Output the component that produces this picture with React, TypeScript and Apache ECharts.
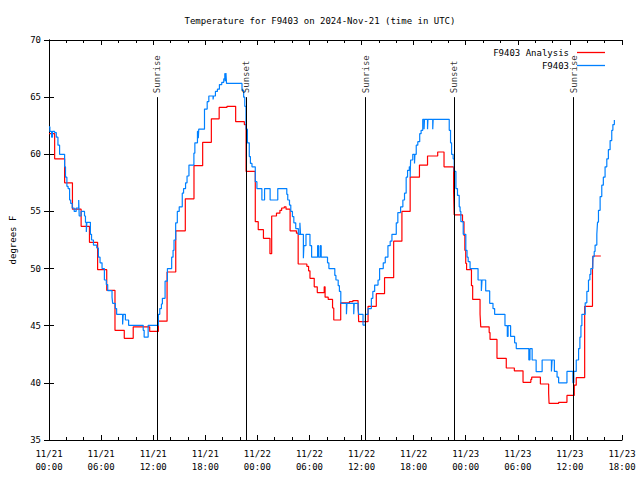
import React, { useEffect, useRef } from "react";
import * as echarts from "echarts";

// hours since 2024-11-21 00:00 UTC, temperature in deg F
const analysisData: [number, number][] = [
  [0, 61.8], [0.65, 59.6], [1.8, 57.5], [2.7, 55.2], [3.7, 53.7], [4.66, 52.3], [5.6, 49.9],
  [6.65, 48.1], [7.6, 44.6], [8.67, 43.9], [9.7, 44.9], [11.6, 44.5], [12.6, 45.4], [13.6, 49.7],
  [14.6, 53.3], [15.7, 56.1], [16.7, 59.0], [17.7, 61.05], [18.7, 63.1], [19.6, 64.1], [20.5, 64.2],
  [21.5, 62.85], [22.5, 62.6], [22.7, 58.5], [23.76, 54.1], [24.1, 53.4], [24.7, 52.65], [25.45, 51.3],
  [25.65, 54.6], [26.2, 54.85], [26.6, 55.1], [26.8, 55.3], [27.1, 55.4], [27.3, 55.2], [27.77, 53.3],
  [28.5, 53.1], [28.7, 50.4], [29.7, 50.2], [29.9, 49.8], [30.06, 49.15], [30.55, 48.4], [30.9, 47.9],
  [31.7, 48.4], [31.8, 47.5], [32.16, 47.3], [32.66, 46.55], [32.8, 45.5], [33.6, 47.0], [34.6, 47.1],
  [35.0, 47.2], [35.6, 47.0], [35.67, 45.35], [36.75, 46.7], [37.7, 47.8], [38.65, 49.2], [39.7, 52.4],
  [40.65, 55.0], [41.6, 58.0], [42.67, 59.06], [43.6, 59.85], [44.77, 60.2], [45.5, 58.9], [46.6, 56.9],
  [46.67, 54.7], [47.63, 54.1], [47.8, 52.9], [47.9, 51.6], [48.0, 50.46], [48.1, 49.9], [48.66, 48.5],
  [48.8, 47.3], [49.65, 46.0], [49.73, 44.9], [50.7, 44.4], [50.8, 43.8], [51.6, 42.15], [52.67, 41.3],
  [53.6, 41.05], [54.6, 40.05], [55.5, 40.3], [55.6, 40.5], [56.6, 39.9], [57.55, 39.1], [57.6, 38.2],
  [58.7, 38.3], [59.66, 38.9], [60.5, 39.8], [60.73, 40.45], [61.7, 46.7], [62.6, 50.0], [62.65, 51.1],
  [63.56, 51.1],
];

const stationData: [number, number][] = [
  [0, 62.4], [0.1, 62.0], [0.3, 61.5], [0.4, 62.0], [0.65, 61.9], [0.84, 61.5], [1.03, 60.8], [1.22, 60.0],
  [1.8, 58.9], [1.9, 58.0], [2.06, 57.2], [2.2, 57.0], [2.37, 56.0], [2.5, 55.7], [2.67, 55.3], [2.9, 55.0],
  [3.13, 55.3], [3.42, 56.0], [3.48, 54.6], [3.7, 55.0], [4.09, 54.6], [4.2, 54.05], [4.3, 53.2], [4.36, 54.05],
  [4.77, 53.0], [4.9, 52.5], [5.12, 52.06], [5.5, 51.8], [5.69, 51.0], [5.88, 50.5], [6.11, 50.0], [6.38, 49.0],
  [6.6, 48.6], [6.76, 48.07], [7.26, 47.5], [7.33, 46.96], [7.64, 46.5], [7.79, 46.0], [8.48, 45.1], [8.55, 46.0],
  [8.8, 45.5], [9.17, 45.03], [10.85, 44.6], [10.96, 44.0], [11.42, 45.03], [12.6, 46.0], [12.76, 46.5],
  [12.95, 46.9], [13.06, 47.4], [13.37, 48.9], [13.64, 50.0], [14.13, 51.0], [14.29, 51.6], [14.4, 52.5],
  [14.59, 54.0], [14.78, 55.0], [15.0, 55.4], [15.35, 56.6], [15.5, 57.0], [15.73, 57.5], [15.9, 58.1],
  [16.12, 59.06], [16.69, 60.1], [16.8, 61.0], [17.1, 62.0], [17.2, 61.4], [17.25, 62.2], [17.91, 63.96],
  [18.22, 64.6], [18.41, 65.1], [18.9, 64.8], [18.95, 65.1], [19.17, 65.5], [19.4, 65.7], [19.63, 66.1],
  [19.9, 66.3], [20.13, 66.6], [20.25, 67.1], [20.3, 66.4], [20.38, 67.1], [20.45, 66.2], [22.23, 65.6],
  [22.42, 65.0], [22.55, 64.2], [22.69, 62.2], [22.85, 61.0], [23.07, 59.8], [23.2, 59.2], [23.38, 58.9],
  [23.76, 57.6], [23.95, 57.0], [24.52, 56.0], [24.83, 57.0], [25.47, 56.0], [26.35, 57.0], [27.39, 56.5],
  [27.5, 56.0], [27.7, 55.56], [27.85, 55.0], [28.04, 54.55], [28.2, 54.0], [28.42, 53.5], [28.72, 53.0],
  [28.9, 54.0], [28.97, 53.0], [29.3, 50.9], [29.36, 52.0], [29.6, 53.0], [30.06, 52.0], [30.25, 51.0],
  [30.94, 52.0], [31.05, 51.0], [31.25, 52.0], [31.35, 51.0], [32.08, 50.5], [32.24, 50.0], [32.92, 49.4],
  [33.05, 49.0], [33.31, 48.5], [33.45, 48.0], [33.61, 46.96], [34.26, 46.0], [34.32, 46.96], [35.1, 46.0],
  [35.16, 46.96], [35.6, 46.5], [35.67, 46.0], [36.17, 45.06], [36.44, 46.0], [36.75, 46.5], [37.13, 47.4],
  [37.3, 48.0], [37.51, 48.56], [37.9, 49.0], [38.08, 50.0], [38.5, 50.5], [38.73, 51.0], [39.04, 52.0],
  [39.3, 52.4], [39.5, 53.0], [40.0, 54.0], [40.18, 54.9], [40.5, 55.4], [40.76, 56.0], [40.95, 56.6],
  [41.14, 58.0], [41.3, 58.6], [41.5, 58.9], [41.6, 58.0], [41.65, 59.5], [41.9, 60.0], [42.1, 59.2],
  [42.15, 60.0], [42.3, 60.8], [42.48, 61.1], [42.7, 61.8], [42.86, 62.1], [43.05, 63.06], [43.2, 62.2],
  [43.25, 63.06], [43.6, 62.2], [43.65, 63.06], [44.2, 62.2], [44.25, 63.06], [46.1, 62.1], [46.25, 61.0],
  [46.37, 60.0], [46.55, 59.6], [46.67, 58.5], [46.87, 57.0], [47.05, 56.4], [47.25, 55.4], [47.35, 55.0],
  [47.44, 54.1], [47.71, 53.0], [48.01, 51.6], [48.15, 51.0], [48.28, 50.6], [48.5, 50.0], [49.42, 49.0],
  [49.8, 48.04], [49.88, 49.0], [50.3, 48.04], [50.76, 46.96], [51.14, 46.5], [51.33, 46.0], [52.52, 45.0],
  [52.79, 44.06], [52.88, 45.0], [53.17, 44.06], [53.63, 43.5], [53.82, 43.0], [55.27, 42.0], [55.4, 43.0],
  [55.65, 42.0], [56.11, 40.98], [56.8, 42.0], [57.87, 41.0], [57.95, 42.0], [58.21, 41.0], [58.52, 40.5],
  [58.7, 40.0], [59.66, 41.0], [60.35, 40.0], [60.45, 41.0], [60.73, 42.0], [61.0, 43.0], [61.15, 44.0],
  [61.27, 45.0], [61.38, 46.0], [61.76, 47.0], [61.95, 48.0], [62.14, 49.0], [62.3, 49.5], [62.41, 50.0],
  [62.64, 51.04], [62.8, 51.5], [62.9, 52.06], [63.1, 53.0], [63.18, 54.06], [63.29, 55.1], [63.48, 56.3],
  [63.67, 57.3], [63.85, 58.0], [64.05, 58.9], [64.25, 59.6], [64.43, 60.4], [64.63, 61.2], [64.82, 62.1],
  [64.95, 62.6], [65.12, 63.0],
];

const sunEventHours = [12.42, 22.69, 36.48, 46.67, 60.42];
const sunEventNames = ["Sunrise", "Sunset", "Sunrise", "Sunset", "Sunrise"];
const sunLineTop = 65;

const xTickLabels = [
  "11/21\n00:00", "11/21\n06:00", "11/21\n12:00", "11/21\n18:00",
  "11/22\n00:00", "11/22\n06:00", "11/22\n12:00", "11/22\n18:00",
  "11/23\n00:00", "11/23\n06:00", "11/23\n12:00", "11/23\n18:00",
];

const seriesNames = ["F9403 Analysis", "F9403"];
const titleText = "Temperature for F9403 on 2024-Nov-21 (time in UTC)";

const FONT = "DejaVu Sans Mono";

export default function App() {
  const ref = useRef<HTMLDivElement>(null);
  useEffect(() => {
    if (!ref.current) return;
    const chart = echarts.init(ref.current, null, { renderer: "svg" });
    const tickStyle = { show: true, inside: true, length: 5, lineStyle: { color: "#000", width: 1 } };
    const minorStyle = { show: true, splitNumber: 3, length: 3, lineStyle: { color: "#000", width: 1 } };
    const textBase = { fontFamily: FONT, fontSize: 9, color: "#000" };
    const legendBase = {
      orient: "vertical",
      right: 30,
      align: "right",
      icon: "rect",
      itemWidth: 28,
      itemHeight: 1.3,
      textStyle: { ...textBase, padding: [0, 3, 0, 0] },
    };
    chart.setOption({
      animation: false,
      backgroundColor: "#fff",
      title: {
        text: titleText,
        left: "center",
        top: 11,
        textStyle: { ...textBase, fontWeight: "normal" },
      },
      legend: [
        { ...legendBase, data: [seriesNames[0]], top: 43 },
        { ...legendBase, data: [seriesNames[1]], top: 56 },
      ],
      grid: { left: 46, right: 18, top: 40, bottom: 40 },
      xAxis: [
        {
          type: "value",
          min: 0,
          max: 66,
          interval: 6,
          position: "bottom",
          axisLine: { show: true, lineStyle: { color: "#000", width: 1 } },
          axisTick: tickStyle,
          minorTick: minorStyle,
          splitLine: { show: false },
          axisLabel: {
            ...textBase,
            lineHeight: 13,
            margin: 7,
            formatter: (v: number) => xTickLabels[Math.round(v / 6)] ?? "",
          },
        },
        {
          type: "value",
          min: 0,
          max: 66,
          interval: 6,
          position: "top",
          axisLine: { show: true, lineStyle: { color: "#000", width: 1 } },
          axisTick: tickStyle,
          minorTick: minorStyle,
          splitLine: { show: false },
          axisLabel: { show: false },
        },
      ],
      yAxis: [
        {
          type: "value",
          min: 35,
          max: 70,
          interval: 5,
          position: "left",
          name: "degrees F",
          nameLocation: "middle",
          nameGap: 32,
          nameTextStyle: textBase,
          axisLine: { show: true, lineStyle: { color: "#000", width: 1 } },
          axisTick: tickStyle,
          splitLine: { show: false },
          axisLabel: { ...textBase, margin: 8 },
        },
        {
          type: "value",
          min: 35,
          max: 70,
          interval: 5,
          position: "right",
          axisLine: { show: true, lineStyle: { color: "#000", width: 1 } },
          axisTick: tickStyle,
          splitLine: { show: false },
          axisLabel: { show: false },
        },
      ],
      series: [
        {
          name: seriesNames[0],
          type: "line",
          step: "end",
          data: analysisData,
          symbol: "none",
          lineStyle: { color: "#ff0000", width: 1.2 },
          itemStyle: { color: "#ff0000" },
          z: 2,
        },
        {
          name: seriesNames[1],
          type: "line",
          step: "end",
          data: stationData,
          symbol: "none",
          lineStyle: { color: "#0080ff", width: 1.2 },
          itemStyle: { color: "#0080ff" },
          z: 3,
        },
        {
          name: "sun",
          type: "scatter",
          symbolSize: 0,
          data: sunEventHours.map((h, i) => [h, sunLineTop, sunEventNames[i]]),
          label: {
            show: true,
            position: "top",
            distance: 4,
            rotate: 90,
            align: "left",
            verticalAlign: "middle",
            formatter: (p: any) => p.data[2],
            ...textBase,
          },
          markLine: {
            silent: true,
            symbol: "none",
            label: { show: false },
            lineStyle: { color: "#000", width: 1, type: "solid" },
            data: sunEventHours.map((h) => [
              { coord: [h, 35] },
              { coord: [h, sunLineTop] },
            ]),
          },
          z: 4,
        },
      ],
    });
    return () => chart.dispose();
  }, []);
  return <div ref={ref} style={{ width: 640, height: 480, position: "absolute", left: 0, top: 0 }} />;
}
